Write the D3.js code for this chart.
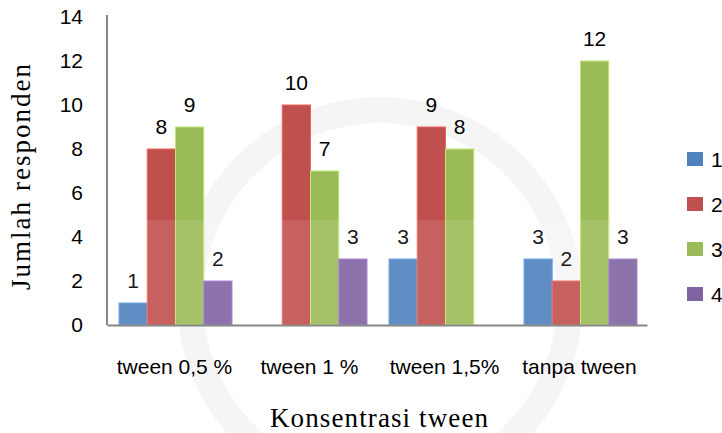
<!DOCTYPE html>
<html>
<head>
<meta charset="utf-8">
<script src="https://cdn.jsdelivr.net/npm/d3@7.9.0/dist/d3.min.js"></script>
<style>
  body { margin: 0; background: #fff; }
  svg { display: block; }
  .tick-label, .val-label, .cat-label, .legend-label { font-family: "Liberation Sans", Arial, sans-serif; fill: #000; }
  .title { font-family: "Liberation Serif", "Times New Roman", serif; fill: #000; }
</style>
</head>
<body>
<div id="chart"></div>
<script>
// data
const categories = ['tween 0,5 %', 'tween 1 %', 'tween 1,5%', 'tanpa tween'];
const seriesNames = ['1', '2', '3', '4'];
const series1 = [1, 0, 3, 3];
const series2 = [8, 10, 9, 2];
const series3 = [9, 7, 8, 12];
const series4 = [2, 3, 0, 3];
const yTicks = [0, 2, 4, 6, 8, 10, 12, 14];
const colors = ['#4F81BD', '#C0504D', '#9BBB59', '#8064A2'];

const allSeries = [series1, series2, series3, series4];
const width = 722, height = 433;
const plot = { left: 107, right: 647, top: 17, bottom: 325 };

const svg = d3.select('#chart').append('svg').attr('width', width).attr('height', height);

const xScale = d3.scaleBand().domain(categories).range([plot.left, plot.right]);
const xInner = d3.scaleBand().domain(seriesNames).range([12, 125]);
const yScale = d3.scaleLinear().domain([0, 14]).range([plot.bottom, plot.top]);

// very faint watermark ring behind everything
svg.append('circle').attr('cx', 380).attr('cy', 300).attr('r', 190)
  .attr('fill', 'none').attr('stroke', '#000').attr('stroke-width', 26).attr('opacity', 0.04);

// bars
const rows = categories.map((c, i) => ({ cat: c, values: allSeries.map((s, j) => ({ key: seriesNames[j], value: s[i], color: colors[j] })) }));

const groups = svg.append('g').selectAll('g').data(rows).join('g')
  .attr('transform', d => `translate(${xScale(d.cat)},0)`);

groups.selectAll('rect').data(d => d.values).join('rect')
  .attr('x', d => xInner(d.key))
  .attr('y', d => yScale(d.value))
  .attr('width', xInner.bandwidth())
  .attr('height', d => yScale(0) - yScale(d.value))
  .attr('fill', d => d.color)
  .attr('stroke', d => d3.color(d.color).brighter(0.6))
  .attr('stroke-width', 1);

// watermark lightening over lower part
svg.append('rect').attr('x', plot.left).attr('y', 220).attr('width', plot.right - plot.left).attr('height', plot.bottom - 220)
  .attr('fill', '#fff').attr('opacity', 0.1);

groups.selectAll('text').data(d => d.values.filter(v => v.value > 0)).join('text')
  .attr('class', 'val-label')
  .attr('x', d => xInner(d.key) + xInner.bandwidth() / 2)
  .attr('y', d => yScale(d.value) - 15)
  .attr('text-anchor', 'middle')
  .style('font-size', '21px')
  .text(d => d.value);

// y axis
const yAxis = svg.append('g').attr('transform', `translate(${plot.left},0)`)
  .call(d3.axisLeft(yScale).tickValues(yTicks).tickSize(0).tickPadding(24));
yAxis.select('.domain').attr('stroke', '#868686').attr('stroke-width', 2).attr('d', `M0,15V${plot.bottom}`);
yAxis.selectAll('text').attr('class', 'tick-label').style('font-size', '21px').attr('fill', '#000');

// x axis
const xAxis = svg.append('g').attr('transform', `translate(0,${plot.bottom})`)
  .call(d3.axisBottom(xScale).tickSize(0).tickPadding(34));
xAxis.select('.domain').attr('stroke', '#868686').attr('stroke-width', 2);
xAxis.selectAll('text').attr('class', 'cat-label').style('font-size', '21px').attr('fill', '#000');

// titles
svg.append('text').attr('class', 'title')
  .attr('transform', `translate(30,177) rotate(-90)`)
  .attr('text-anchor', 'middle').style('font-size', '27px')
  .attr('textLength', 226).attr('lengthAdjust', 'spacing')
  .text('Jumlah responden');
svg.append('text').attr('class', 'title')
  .attr('x', 379).attr('y', 427).attr('text-anchor', 'middle').style('font-size', '27px')
  .attr('textLength', 218).attr('lengthAdjust', 'spacing')
  .text('Konsentrasi tween');

// legend
const legend = svg.append('g').selectAll('g').data(seriesNames).join('g')
  .attr('transform', (d, i) => `translate(687,${159 + i * 45})`);
legend.append('rect').attr('x', 0).attr('y', -7).attr('width', 16).attr('height', 14)
  .attr('fill', (d, i) => colors[i]);
legend.append('text').attr('class', 'legend-label').attr('x', 24).attr('y', 8)
  .style('font-size', '21px').text(d => d);
</script>
</body>
</html>
